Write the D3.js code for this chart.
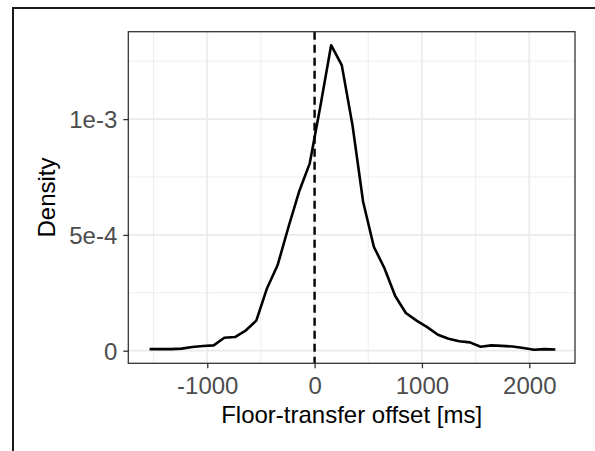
<!DOCTYPE html>
<html><head><meta charset="utf-8">
<script src="https://cdn.jsdelivr.net/npm/d3@7"></script>
<style>
html,body{margin:0;padding:0;background:#fff;}
svg{display:block;}
text{font-family:"Liberation Sans",Arial,Helvetica,sans-serif;}
</style></head>
<body>
<svg id="chart" width="595" height="451"></svg>
<script>
// Data (offset in ms, density in units of 1e-3)
const offsets = [-1537,-1438,-1338,-1239,-1139,-1040,-940,-841,-742,-642,-543,-443,-344,-244,-145,-45,54,154,253,353,452,552,651,751,850,950,1049,1149,1248,1348,1447,1547,1646,1746,1845,1945,2044,2144,2243];
const densityE3 = [0.007,0.007,0.007,0.009,0.016,0.020,0.023,0.056,0.059,0.087,0.130,0.270,0.370,0.533,0.686,0.809,1.056,1.319,1.233,0.974,0.643,0.449,0.356,0.236,0.163,0.130,0.102,0.069,0.052,0.041,0.036,0.017,0.023,0.021,0.018,0.012,0.004,0.007,0.005];
const xTicks = [-1000,0,1000,2000];
const xTickLabels = ["-1000","0","1000","2000"];
const xMinor = [-1500,-500,500,1500];
const yTicks = [0,0.0005,0.001];
const yTickLabels = ["0","5e-4","1e-3"];
const yMinor = [0.00025,0.00075,0.00125];
const vlineX = 0;

const points = offsets.map((o,i)=>({x:o, y:densityE3[i]*1e-3}));

const svg = d3.select("#chart");
const pL=128.3, pR=575, pT=31.7, pB=363.3;
const x = d3.scaleLinear().domain([-1735.5,2426]).range([pL,pR]);
const y = d3.scaleLinear().domain([-0.0000544,0.0013774]).range([pB,pT]);

// figure frame (cropped)
svg.append("line").attr("x1",13).attr("x2",13).attr("y1",7).attr("y2",451).attr("stroke","#1a1a1a").attr("stroke-width",2);
svg.append("line").attr("x1",12).attr("x2",595).attr("y1",8).attr("y2",8).attr("stroke","#1a1a1a").attr("stroke-width",2);

const g = svg.append("g");
// minor grid
g.selectAll(".xm").data(xMinor).enter().append("line")
 .attr("x1",d=>x(d)).attr("x2",d=>x(d)).attr("y1",pT).attr("y2",pB)
 .attr("stroke","#EBEBEB").attr("stroke-width",0.9);
g.selectAll(".ym").data(yMinor).enter().append("line")
 .attr("y1",d=>y(d)).attr("y2",d=>y(d)).attr("x1",pL).attr("x2",pR)
 .attr("stroke","#EBEBEB").attr("stroke-width",0.9);
// major grid
g.selectAll(".xg").data(xTicks).enter().append("line")
 .attr("x1",d=>x(d)).attr("x2",d=>x(d)).attr("y1",pT).attr("y2",pB)
 .attr("stroke","#EBEBEB").attr("stroke-width",1.7);
g.selectAll(".yg").data(yTicks).enter().append("line")
 .attr("y1",d=>y(d)).attr("y2",d=>y(d)).attr("x1",pL).attr("x2",pR)
 .attr("stroke","#EBEBEB").attr("stroke-width",1.7);

// curve
const line = d3.line().x(d=>x(d.x)).y(d=>y(d.y));
g.append("path").datum(points).attr("d",line).attr("fill","none")
 .attr("stroke","#000").attr("stroke-width",2.6).attr("stroke-linejoin","round");

// dashed vertical line
g.append("line").attr("x1",x(vlineX)).attr("x2",x(vlineX)).attr("y1",pT).attr("y2",pB)
 .attr("stroke","#000").attr("stroke-width",2.4).attr("stroke-dasharray","8,5");

// panel border
g.append("rect").attr("x",pL).attr("y",pT).attr("width",pR-pL).attr("height",pB-pT)
 .attr("fill","none").attr("stroke","#333333").attr("stroke-width",1.3);

// axes
const xAxis = d3.axisBottom(x).tickValues(xTicks).tickSize(5).tickPadding(4).tickFormat((d,i)=>xTickLabels[i]);
const ax = svg.append("g").attr("transform",`translate(0,${pB})`).call(xAxis);
ax.select(".domain").remove();
ax.selectAll(".tick line").attr("stroke","#333333").attr("stroke-width",1.3);
ax.selectAll(".tick text").attr("fill","#4D4D4D").attr("font-size","24px")
  .attr("font-family","Liberation Sans, Arial, sans-serif").attr("dy",null).attr("y",31);

const yAxis = d3.axisLeft(y).tickValues(yTicks).tickSize(5).tickPadding(5).tickFormat((d,i)=>yTickLabels[i]);
const ay = svg.append("g").attr("transform",`translate(${pL},0)`).call(yAxis);
ay.select(".domain").remove();
ay.selectAll(".tick line").attr("stroke","#333333").attr("stroke-width",1.3);
ay.selectAll(".tick text").attr("fill","#4D4D4D").attr("font-size","24px")
  .attr("font-family","Liberation Sans, Arial, sans-serif").attr("x",-11).attr("dy","0.35em");

// titles
svg.append("text").attr("x",(pL+pR)/2).attr("y",423).attr("text-anchor","middle")
 .attr("font-size","24px").attr("fill","#000").text("Floor-transfer offset [ms]");
svg.append("text").attr("transform",`translate(55,${(pT+pB)/2}) rotate(-90)`).attr("text-anchor","middle")
 .attr("font-size","24px").attr("fill","#000").text("Density");
</script>
</body></html>
